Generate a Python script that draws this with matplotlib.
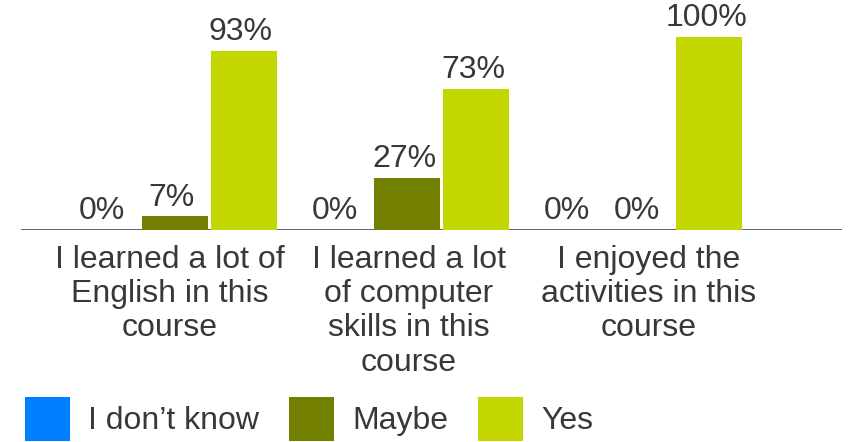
import numpy as np
import matplotlib.pyplot as plt

plt.rcParams['font.family'] = ['Liberation Sans', 'DejaVu Sans']

categories = ['I learned a lot of\nEnglish in this\ncourse',
              'I learned a lot\nof computer\nskills in this\ncourse',
              'I enjoyed the\nactivities in this\ncourse']
series_names = ['I don\u2019t know', 'Maybe', 'Yes']
dont_know = [0, 0, 0]
maybe = [7, 27, 0]
yes = [93, 73, 100]
colors = ['#0080ff', '#737f00', '#c4d600']
text_color = '#383838'

fig = plt.figure(figsize=(8.53, 4.42), dpi=100)
W, H = 853, 442
# axes: baseline at y=230px, 100% at y=37px
ax = fig.add_axes([0, (H - 230) / H, 1, 193 / H])
ax.set_ylim(0, 100)

# one category = 232.5 px, bar width 66 px, step 69.5 px
px = 1 / 232.5
x = np.arange(len(categories))
bw = 66 * px
step = 69.5 * px
ax.set_xlim(-174.5 * px, (W - 174.5) * px)

for i, (vals, c) in enumerate(zip([dont_know, maybe, yes], colors)):
    pos = x + (i - 1) * step
    bars = ax.bar(pos, vals, width=bw, color=c, label=series_names[i], zorder=3)
    for b, v in zip(bars, vals):
        ax.text(b.get_x() + b.get_width() / 2 - 3 * px, v + 2, f'{v}%',
                ha='center', va='bottom', fontsize=23, color=text_color)

ax.axhline(0, xmin=22 / W, xmax=840 / W, color='#555555', lw=2, zorder=2)

label_shift = [-5, 2, 9]
for xi, cat, s in zip(x, categories, label_shift):
    ax.text(xi + s * px, -8, cat, ha='center', va='top', fontsize=23,
            color=text_color, linespacing=1.175)

ax.axis('off')

fig.legend(loc='upper left', bbox_to_anchor=(25 / W, 1 - 397 / H), ncol=3,
           frameon=False, fontsize=23, handlelength=1.41, handleheight=1.72,
           handletextpad=0.56, columnspacing=0.94, labelcolor=text_color,
           borderaxespad=0, borderpad=0)

fig.savefig('out.png', dpi=100)
